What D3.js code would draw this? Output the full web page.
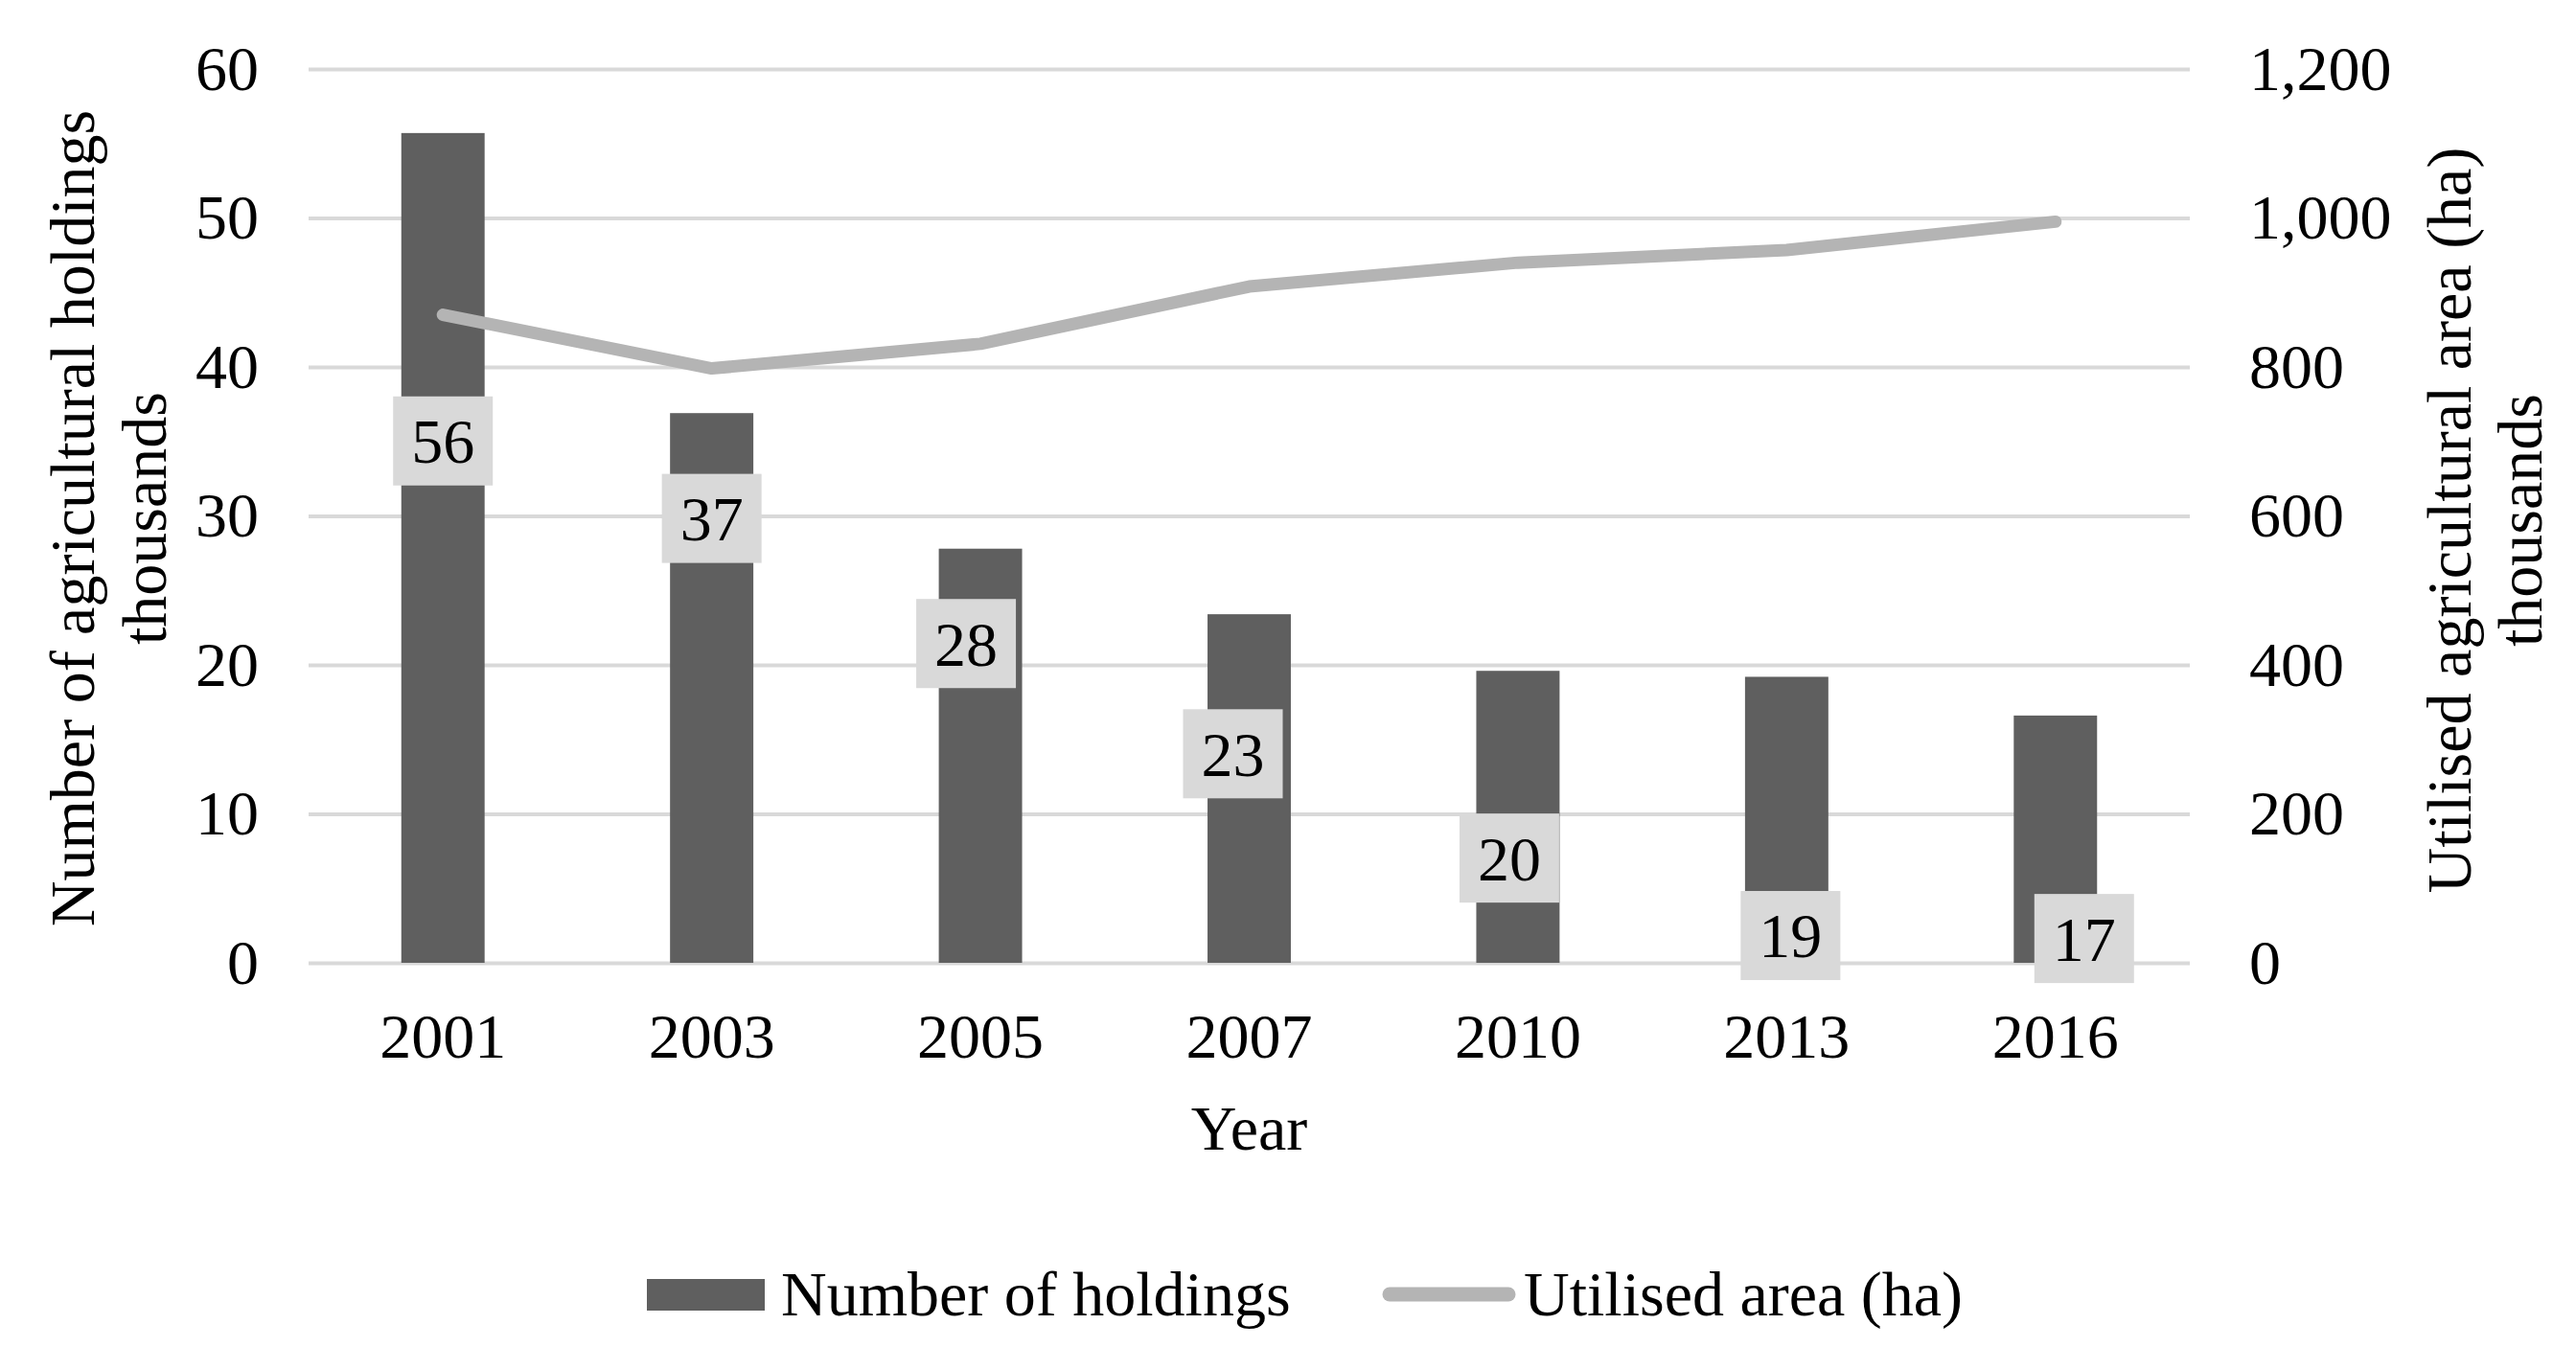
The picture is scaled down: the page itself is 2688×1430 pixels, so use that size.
<!DOCTYPE html>
<html>
<head>
<meta charset="utf-8">
<script src="https://cdn.jsdelivr.net/npm/d3@7"></script>
<style>
  body { margin: 0; background: #fff; }
  text { font-family: "Liberation Serif", "Times New Roman", serif; fill: #000; }
</style>
</head>
<body>
<div id="chart"></div>
<script>
// data
var years = ["2001", "2003", "2005", "2007", "2010", "2013", "2016"];
var holdings = [55.7, 36.9, 27.8, 23.4, 19.6, 19.2, 16.6];      // thousands
var holdingLabels = ["56", "37", "28", "23", "20", "19", "17"];
var area = [870, 798, 831, 908, 940, 957, 995];                  // thousand ha
var leftTicks = [0, 10, 20, 30, 40, 50, 60];
var rightTicks = [0, 200, 400, 600, 800, 1000, 1200];

// where the (hand-moved) data labels sit, in left-axis units / px nudges
var labelAt = [35.0, 29.8, 21.4, 14.0, 7.0, 1.8, 1.6];
var labelNudge = [0, 0, -15, -17, -9, 4, 30];

var W = 2688, H = 1430;
var margin = {top: 72, right: 403, bottom: 425, left: 322};
var width = W - margin.left - margin.right,
    height = H - margin.top - margin.bottom;

var svg = d3.select("#chart").append("svg")
    .attr("width", W)
    .attr("height", H)
  .append("g")
    .attr("transform", "translate(" + margin.left + "," + margin.top + ")");

var x = d3.scaleBand().domain(years).range([0, width])
    .paddingInner(0.69).paddingOuter(0.345);
var yL = d3.scaleLinear().domain([0, 60]).range([height, 0]);
var yR = d3.scaleLinear().domain([0, 1200]).range([height, 0]);

// gridlines
svg.append("g")
    .attr("class", "grid")
    .call(d3.axisLeft(yL).tickValues(leftTicks).tickSize(-width).tickFormat(""))
    .call(function(g) { g.select(".domain").remove(); })
    .selectAll("line")
    .attr("stroke", "#d9d9d9")
    .attr("stroke-width", 4);

// left axis labels
var la = svg.append("g")
    .call(d3.axisLeft(yL).tickValues(leftTicks).tickSize(0).tickPadding(52));
la.select(".domain").remove();
la.selectAll("text").style("font-size", "66px").attr("fill", "#000");

// right axis labels
var ra = svg.append("g")
    .attr("transform", "translate(" + width + ",0)")
    .call(d3.axisRight(yR).tickValues(rightTicks).tickSize(0).tickPadding(62)
      .tickFormat(d3.format(",")));
ra.select(".domain").remove();
ra.selectAll("text").style("font-size", "66px").attr("fill", "#000");

// bottom axis labels
var ba = svg.append("g")
    .attr("transform", "translate(0," + height + ")")
    .call(d3.axisBottom(x).tickSize(0).tickPadding(52));
ba.select(".domain").remove();
ba.selectAll("text").style("font-size", "66px").attr("fill", "#000");

// bars
svg.selectAll("rect.bar")
    .data(holdings)
  .enter().append("rect")
    .attr("class", "bar")
    .attr("x", function(d, i) { return x(years[i]); })
    .attr("width", x.bandwidth())
    .attr("y", function(d) { return yL(d); })
    .attr("height", function(d) { return height - yL(d); })
    .attr("fill", "#5f5f5f");

// line
var line = d3.line()
    .x(function(d, i) { return x(years[i]) + x.bandwidth() / 2; })
    .y(function(d) { return yR(d); });

svg.append("path")
    .datum(area)
    .attr("d", line)
    .attr("fill", "none")
    .attr("stroke", "#b4b4b4")
    .attr("stroke-width", 13)
    .attr("stroke-linejoin", "round")
    .attr("stroke-linecap", "round");

// data labels in grey boxes
var lab = svg.selectAll("g.lab")
    .data(holdingLabels)
  .enter().append("g")
    .attr("class", "lab")
    .attr("transform", function(d, i) {
      return "translate(" + (x(years[i]) + x.bandwidth() / 2 + labelNudge[i]) + "," + yL(labelAt[i]) + ")";
    });

lab.append("rect")
    .attr("x", -52).attr("y", -47)
    .attr("width", 104).attr("height", 93)
    .attr("fill", "#d9d9d9");

lab.append("text")
    .attr("text-anchor", "middle")
    .attr("dy", "0.34em")
    .style("font-size", "66px")
    .text(function(d) { return d; });

// axis titles
svg.append("text")
    .attr("x", width / 2)
    .attr("y", 1200 - margin.top)
    .attr("text-anchor", "middle")
    .style("font-size", "66px")
    .text("Year");

var lt = svg.append("text")
    .attr("transform", "translate(" + (98 - margin.left) + "," + (541 - margin.top) + ") rotate(-90)")
    .attr("text-anchor", "middle")
    .style("font-size", "66px");
lt.append("tspan").attr("x", 0).attr("y", 0).text("Number of agricultural holdings");
lt.append("tspan").attr("x", 0).attr("y", 75).text("thousands");

var rt = svg.append("text")
    .attr("transform", "translate(" + (2578 - margin.left) + "," + (543 - margin.top) + ") rotate(-90)")
    .attr("text-anchor", "middle")
    .style("font-size", "66px");
rt.append("tspan").attr("x", 0).attr("y", 0).text("Utilised agricultural area (ha)");
rt.append("tspan").attr("x", 0).attr("y", 74).text("thousands");

// legend
var legend = d3.select("svg").append("g").attr("class", "legend");

legend.append("rect")
    .attr("x", 675).attr("y", 1335)
    .attr("width", 123).attr("height", 33)
    .attr("fill", "#5f5f5f");
legend.append("text")
    .attr("x", 815).attr("y", 1373)
    .style("font-size", "66px")
    .text("Number of holdings");

legend.append("line")
    .attr("x1", 1450).attr("x2", 1574)
    .attr("y1", 1351).attr("y2", 1351)
    .attr("stroke", "#b4b4b4")
    .attr("stroke-width", 15)
    .attr("stroke-linecap", "round");
legend.append("text")
    .attr("x", 1590).attr("y", 1373)
    .style("font-size", "66px")
    .text("Utilised area (ha)");
</script>
</body>
</html>
